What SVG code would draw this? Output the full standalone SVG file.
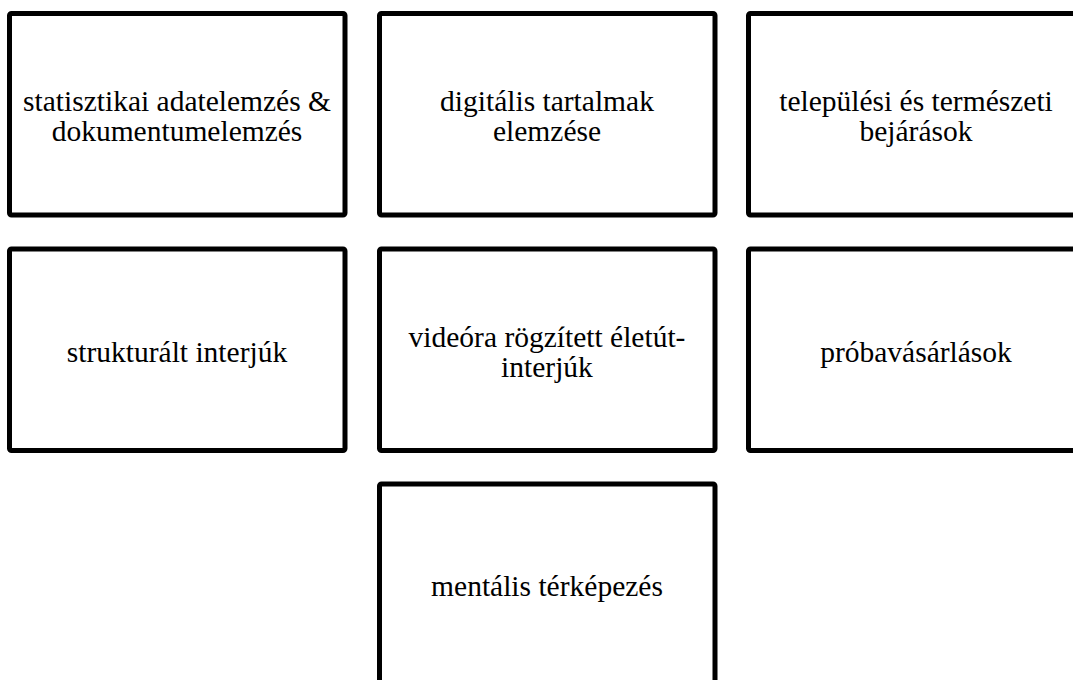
<svg xmlns="http://www.w3.org/2000/svg" width="1073" height="680" viewBox="0 0 1073 680">
<style>
.box{fill:#fff;stroke:#000;stroke-width:5}
.t{font-family:"Liberation Serif","Times New Roman",serif;font-size:29.5px;fill:#000;text-anchor:middle}
</style>
<rect width="1073" height="680" fill="#fff"/>
<g id="n1"><rect class="box" x="9.5" y="13.5" width="335.5" height="201.5" rx="2"/><text class="t" x="177" y="111">statisztikai adatelemzés &amp;</text><text class="t" x="177" y="141">dokumentumelemzés</text></g>
<g id="n2"><rect class="box" x="379.5" y="13.5" width="335.5" height="201.5" rx="2"/><text class="t" x="547" y="111">digitális tartalmak</text><text class="t" x="547" y="141">elemzése</text></g>
<g id="n3"><rect class="box" x="748.5" y="13.5" width="335.5" height="201.5" rx="2"/><text class="t" x="916" y="111">települési és természeti</text><text class="t" x="916" y="141">bejárások</text></g>
<g id="n4"><rect class="box" x="9.5" y="249" width="335.5" height="201.5" rx="2"/><text class="t" x="177" y="362">strukturált interjúk</text></g>
<g id="n5"><rect class="box" x="379.5" y="249" width="335.5" height="201.5" rx="2"/><text class="t" x="547" y="347">videóra rögzített életút-</text><text class="t" x="547" y="377">interjúk</text></g>
<g id="n6"><rect class="box" x="748.5" y="249" width="335.5" height="201.5" rx="2"/><text class="t" x="916" y="362">próbavásárlások</text></g>
<g id="n7"><rect class="box" x="379.5" y="484" width="335.5" height="201.5" rx="2"/><text class="t" x="547" y="596">mentális térképezés</text></g>
<g id="connectors"/>
</svg>
